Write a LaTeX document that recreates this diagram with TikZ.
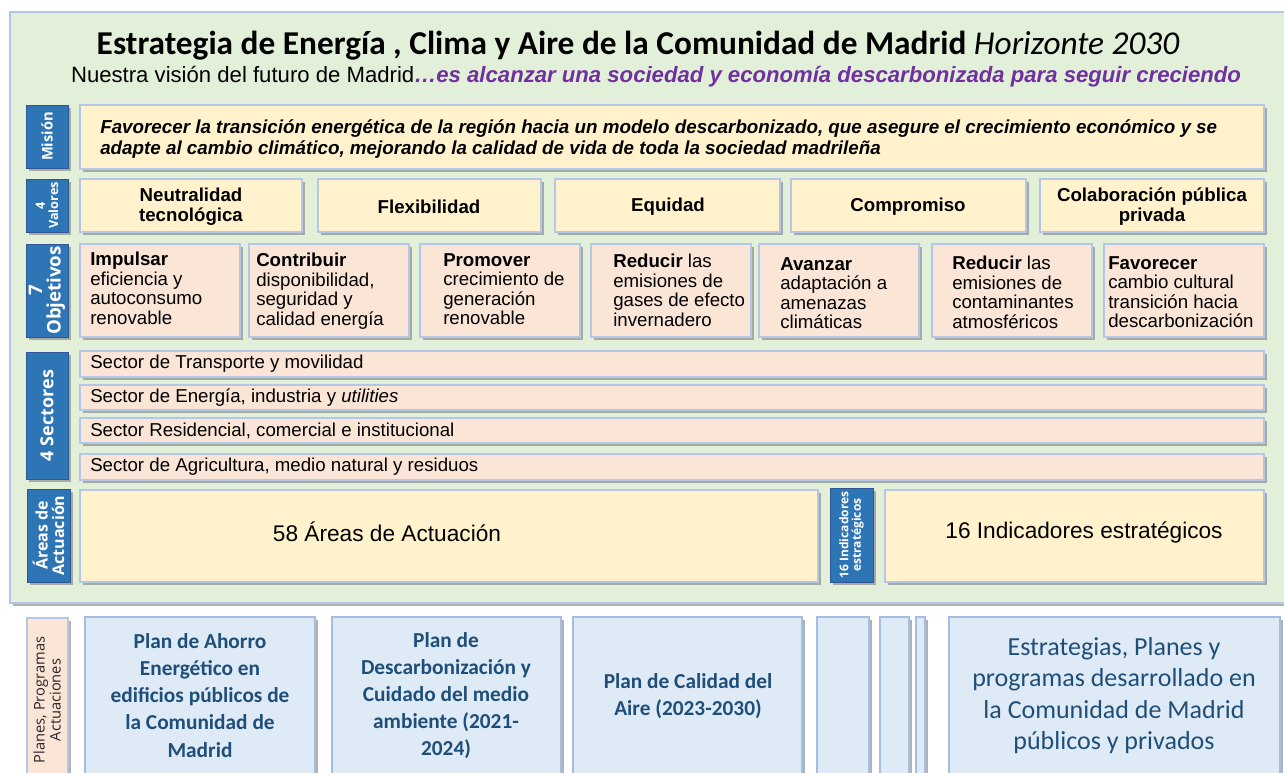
\documentclass[tikz,border=0pt]{standalone}
\usepackage{fontspec}
\setmainfont{Liberation Sans}
\newfontfamily\calfont{Carlito}
\newfontfamily\osfont{Open Sans}
\usetikzlibrary{shadows}
\definecolor{pgreen}{HTML}{E2F0D9}
\definecolor{bline}{HTML}{B4C7E7}
\definecolor{cream}{HTML}{FFF2CC}
\definecolor{peach}{HTML}{FBE5D6}
\definecolor{lblue}{HTML}{2E75B6}
\definecolor{lbdark}{HTML}{2F5597}
\definecolor{planfill}{HTML}{DEEBF7}
\definecolor{planline}{HTML}{A3BEE2}
\definecolor{navy}{HTML}{1F4E79}
\definecolor{purp}{HTML}{7030A0}
\tikzset{
  rect/.style n args={4}{at={(#1,#2)}, anchor=north west, inner sep=0pt, outer sep=0pt,
     minimum width={(#3-#1)*0.75pt}, minimum height={(#4-#2)*0.75pt}},
  shad/.style={drop shadow={shadow xshift=2pt, shadow yshift=-2pt, fill=black!55, opacity=0.55}},
  panelbox/.style={fill=pgreen, draw=bline, line width=1.5pt, shad},
  ybox/.style={fill=cream, draw=bline, line width=1.2pt, shad},
  pbox/.style={fill=peach, draw=bline, line width=1.2pt, shad},
  lblbox/.style={fill=lblue, draw=lbdark, line width=0.6pt, shad},
  lbltext/.style={rotate=90, text=white, align=center, inner sep=0pt, font=\osfont\bfseries},
  planbox/.style={fill=planfill, draw=planline, line width=1.2pt, shad},
  plantext/.style={align=center, text=navy, inner sep=0pt},
  valtext/.style={align=center, inner sep=0pt, font=\bfseries\fontsize{14}{15}\selectfont},
  objtext/.style={anchor=north west, align=left, inner sep=0pt, font=\fontsize{14}{14.6}\selectfont},
  sectext/.style={anchor=west, inner sep=0pt, font=\fontsize{14}{16}\selectfont},
}
\begin{document}
\begin{tikzpicture}[x=0.75pt,y=-0.75pt]
\useasboundingbox (0,0) rectangle (1284,772);
\clip (0,0) rectangle (1284,772);
\fill[white] (0,0) rectangle (1284,772);

% green panel
\node[panelbox, rect={10}{12}{1292}{603}] (panel) {};

% title
\node[anchor=base, inner sep=0pt, font=\calfont\fontsize{25}{30}\selectfont] (title) at (638,54)
  {\bfseries Estrategia de Energía , Clima y Aire de la Comunidad de Madrid \mdseries\itshape Horizonte 2030};
\node[anchor=base, inner sep=0pt, font=\fontsize{16.6}{19}\selectfont] (sub) at (656,82)
  {Nuestra visión del futuro de Madrid\textcolor{purp}{\bfseries\itshape …es alcanzar una sociedad y economía descarbonizada para seguir creciendo}};

% Mision
\node[lblbox, rect={26}{105}{68}{168}] (lmis) {};
\node[lbltext, font=\osfont\bfseries\fontsize{11}{13}\selectfont] (tmis) at (lmis) {Misión};
\node[ybox, rect={80}{105}{1264}{169}] (mis) {};
\node[anchor=north west, align=left, inner sep=0pt, font=\bfseries\itshape\fontsize{14.1}{15.75}\selectfont] (tmistxt) at (100,119)
  {Favorecer la transición energética de la región hacia un modelo descarbonizado, que asegure el crecimiento económico y se\\
   adapte al cambio climático, mejorando la calidad de vida de toda la sociedad madrileña};

% Valores
\node[lblbox, rect={26}{179}{68}{232}] (lval) {};
\node[lbltext, font=\osfont\bfseries\fontsize{9.5}{10}\selectfont] (tval) at (lval) {4\\Valores};
\node[ybox, rect={80}{179}{302}{232}] (v1) {};
\node[ybox, rect={318}{179}{541}{232}] (v2) {};
\node[ybox, rect={555}{179}{780}{232}] (v3) {};
\node[ybox, rect={791}{179}{1026}{232}] (v4) {};
\node[ybox, rect={1040}{179}{1264}{232}] (v5) {};
\node[valtext] (tv1) at (191,207) {Neutralidad\\tecnológica};
\node[valtext] (tv2) at (429,207) {Flexibilidad};
\node[valtext] (tv3) at (668,207) {Equidad};
\node[valtext] (tv4) at (908,207) {Compromiso};
\node[valtext] (tv5) at (1152,207) {Colaboración pública\\privada};

% Objetivos
\node[lblbox, rect={26}{244}{68}{337}] (lobj) {};
\node[lbltext, font=\osfont\bfseries\fontsize{14}{14}\selectfont] (tobj) at (lobj) {7\\Objetivos};
\node[pbox, rect={80}{244}{240}{337}] (o1) {};
\node[pbox, rect={249}{244}{409}{337}] (o2) {};
\node[pbox, rect={420}{244}{580}{337}] (o3) {};
\node[pbox, rect={591}{244}{751}{337}] (o4) {};
\node[pbox, rect={759}{244}{919}{337}] (o5) {};
\node[pbox, rect={932}{244}{1092}{337}] (o6) {};
\node[pbox, rect={1104}{244}{1264}{337}] (o7) {};
\node[objtext] (to1) at (90,252) {\textbf{Impulsar}\\eficiencia y\\autoconsumo\\renovable};
\node[objtext] (to2) at (256,253) {\textbf{Contribuir}\\disponibilidad,\\seguridad y\\calidad energía};
\node[objtext] (to3) at (443,253) {\textbf{Promover}\\crecimiento de\\generación\\renovable};
\node[objtext] (to4) at (613,254) {\textbf{Reducir} las\\emisiones de\\gases de efecto\\invernadero};
\node[objtext] (to5) at (780,257) {\textbf{Avanzar}\\adaptación a\\amenazas\\climáticas};
\node[objtext] (to6) at (952,256) {\textbf{Reducir} las\\emisiones de\\contaminantes\\atmosféricos};
\node[objtext] (to7) at (1108,256) {\textbf{Favorecer}\\cambio cultural\\transición hacia\\descarbonización};

% Sectores
\node[lblbox, rect={26}{352}{68}{479}] (lsec) {};
\node[lbltext, font=\osfont\bfseries\fontsize{13.5}{14}\selectfont] (tsec) at (lsec) {4 Sectores};
\node[pbox, rect={80}{351}{1264}{377}] (s1) {};
\node[pbox, rect={80}{385}{1264}{410}] (s2) {};
\node[pbox, rect={80}{418}{1264}{443}] (s3) {};
\node[pbox, rect={80}{454}{1264}{480}] (s4) {};
\node[sectext] (ts1) at (90,364) {Sector de Transporte y movilidad};
\node[sectext] (ts2) at (90,397.5) {Sector de Energía, industria y \textit{utilities}};
\node[sectext] (ts3) at (90,430.5) {Sector Residencial, comercial e institucional};
\node[sectext] (ts4) at (90,467) {Sector de Agricultura, medio natural y residuos};

% Areas
\node[lblbox, rect={27}{489}{70}{582}] (lar) {};
\node[lbltext, font=\osfont\bfseries\fontsize{12}{12.5}\selectfont] (tar) at (lar) {Áreas de\\Actuación};
\node[ybox, rect={80}{490}{818}{582}] (ar) {};
\node[inner sep=0pt, font=\fontsize{17}{20}\selectfont] (tart) at (387,532) {58 Áreas de Actuación};
\node[lblbox, rect={830}{488}{873}{582}] (lind) {};
\node[lbltext, font=\osfont\bfseries\fontsize{9}{9.5}\selectfont] (tlind) at (lind) {16 Indicadores\\estratégicos};
\node[ybox, rect={885}{490}{1264}{582}] (ind) {};
\node[inner sep=0pt, font=\fontsize{17}{20}\selectfont] (tind) at (1084,532) {16 Indicadores estratégicos};

% Planes
\node[fill=peach, draw=bline, line width=1.2pt, shad, rect={27}{618}{68}{775}] (lpl) {};
\node[rotate=90, align=center, inner sep=0pt, text=black!85, font=\osfont\fontsize{11}{12}\selectfont] (tlpl) at (47,700) {Planes, Programas\\Actuaciones};
\node[planbox, rect={85}{617}{315}{775}] (p1) {};
\node[planbox, rect={332}{617}{561}{775}] (p2) {};
\node[planbox, rect={573}{617}{802}{775}] (p3) {};
\node[planbox, rect={817}{617}{869}{775}] (p4) {};
\node[planbox, rect={880}{617}{909}{775}] (p5) {};
\node[planbox, rect={916}{617}{925}{775}] (p6) {};
\node[planbox, rect={949}{617}{1280}{775}] (p7) {};
\node[plantext, font=\calfont\bfseries\fontsize{16}{20.3}\selectfont] (tp1) at (200,695.5) {Plan de Ahorro\\Energético en\\edificios públicos de\\la Comunidad de\\Madrid};
\node[plantext, font=\calfont\bfseries\fontsize{16}{20.3}\selectfont] (tp2) at (446,695.5) {Plan de\\Descarbonización y\\Cuidado del medio\\ambiente (2021-\\2024)};
\node[plantext, font=\calfont\bfseries\fontsize{16}{20.3}\selectfont] (tp3) at (688,696) {Plan de Calidad del\\Aire (2023-2030)};
\node[plantext, font=\calfont\fontsize{19.5}{23.6}\selectfont] (tp7) at (1114,695.5) {Estrategias, Planes y\\programas desarrollado en\\la Comunidad de Madrid\\públicos y privados};
\end{tikzpicture}
\end{document}
